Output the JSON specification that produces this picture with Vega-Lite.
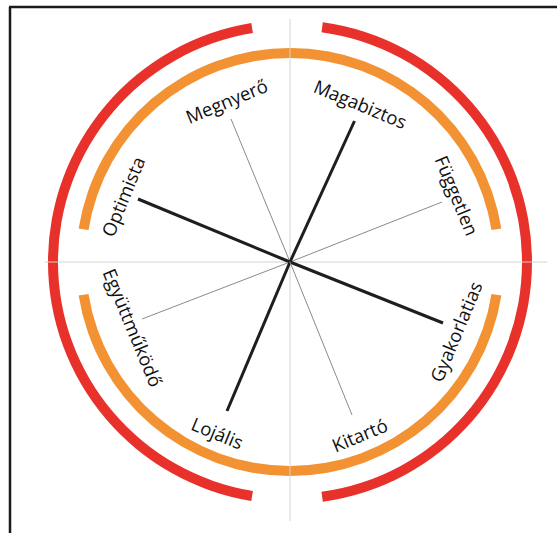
{
  "$schema": "https://vega.github.io/schema/vega-lite/v6.json",
  "width": 557,
  "height": 533,
  "padding": 0,
  "autosize": {"type": "none"},
  "background": "white",
  "config": {"view": {"stroke": null}},
  "datasets": {
    "frame": [
      {"x": -280, "y": 255, "x2": -280, "y2": -275},
      {"x": -281, "y": 255, "x2": 270, "y2": 255}
    ],
    "cross": [
      {"x": 0, "y": 243, "x2": 0, "y2": -259},
      {"x": -245, "y": 0, "x2": 257, "y2": 0}
    ],
    "rings": [
      {"ring": "red-right", "t1": 7.8, "t2": 172.2, "r1": 232, "r2": 242, "color": "#e8312b"},
      {"ring": "red-left", "t1": 189.2, "t2": 350.8, "r1": 232, "r2": 242, "color": "#e8312b"},
      {"ring": "orange-top", "t1": -81, "t2": 81, "r1": 204, "r2": 214, "color": "#f39232"},
      {"ring": "orange-bottom", "t1": 99, "t2": 261, "r1": 204, "r2": 214, "color": "#f39232"}
    ],
    "spokes": [
      {"trait": "Magabiztos", "x": 0, "y": 0, "x2": 64.5, "y2": 141, "kind": "strong"},
      {"trait": "Megnyerő", "x": 0, "y": 0, "x2": -59, "y2": 143, "kind": "weak"},
      {"trait": "Optimista", "x": 0, "y": 0, "x2": -152, "y2": 63, "kind": "strong"},
      {"trait": "Együttműködő", "x": 0, "y": 0, "x2": -148, "y2": -57, "kind": "weak"},
      {"trait": "Független", "x": 0, "y": 0, "x2": 152, "y2": 60, "kind": "weak"},
      {"trait": "Gyakorlatias", "x": 0, "y": 0, "x2": 153, "y2": -61, "kind": "strong"},
      {"trait": "Lojális", "x": 0, "y": 0, "x2": -63, "y2": -149, "kind": "strong"},
      {"trait": "Kitartó", "x": 0, "y": 0, "x2": 62, "y2": -153, "kind": "weak"}
    ],
    "labels": [
      {"trait": "Megnyerő", "x": -63, "y": 160, "angle": -22.5},
      {"trait": "Magabiztos", "x": 70, "y": 157, "angle": 22.5},
      {"trait": "Optimista", "x": -166, "y": 65, "angle": -67.5},
      {"trait": "Együttműködő", "x": -158, "y": -66, "angle": 67.5},
      {"trait": "Független", "x": 166, "y": 66, "angle": 67.5},
      {"trait": "Gyakorlatias", "x": 167, "y": -70, "angle": -67.5},
      {"trait": "Lojális", "x": -73, "y": -172, "angle": 22.5},
      {"trait": "Kitartó", "x": 70, "y": -174, "angle": -22.5}
    ]
  },
  "layer": [
    {
      "data": {"name": "rings"},
      "mark": {"type": "arc"},
      "encoding": {
        "x": {"datum": 0, "type": "quantitative", "scale": {"domain": [-290, 267], "nice": false, "zero": false}, "axis": null},
        "y": {"datum": 0, "type": "quantitative", "scale": {"domain": [-271, 262], "nice": false, "zero": false}, "axis": null},
        "theta": {"field": "t1", "type": "quantitative", "stack": null, "scale": {"type": "linear", "domain": [0, 360], "range": [0, 6.283185307179586], "zero": false, "nice": false}},
        "theta2": {"field": "t2"},
        "radius": {"field": "r1", "type": "quantitative", "stack": null, "scale": {"type": "linear", "domain": [0, 300], "range": [0, 300], "zero": true, "nice": false}},
        "radius2": {"field": "r2"},
        "color": {"field": "color", "type": "nominal", "scale": null}
      }
    },
    {
      "data": {"name": "cross"},
      "mark": {"type": "rule", "color": "#d4d4d4", "strokeWidth": 1},
      "encoding": {
        "x": {"field": "x", "type": "quantitative", "scale": {"domain": [-290, 267], "nice": false, "zero": false}, "axis": null},
        "y": {"field": "y", "type": "quantitative", "scale": {"domain": [-271, 262], "nice": false, "zero": false}, "axis": null},
        "x2": {"field": "x2"},
        "y2": {"field": "y2"}
      }
    },
    {
      "data": {"name": "frame"},
      "mark": {"type": "rule", "color": "#1a1a1a", "strokeWidth": 2.5},
      "encoding": {
        "x": {"field": "x", "type": "quantitative", "scale": {"domain": [-290, 267], "nice": false, "zero": false}, "axis": null},
        "y": {"field": "y", "type": "quantitative", "scale": {"domain": [-271, 262], "nice": false, "zero": false}, "axis": null},
        "x2": {"field": "x2"},
        "y2": {"field": "y2"}
      }
    },
    {
      "data": {"name": "spokes"},
      "mark": {"type": "rule", "strokeCap": "butt"},
      "encoding": {
        "x": {"field": "x", "type": "quantitative", "scale": {"domain": [-290, 267], "nice": false, "zero": false}, "axis": null},
        "y": {"field": "y", "type": "quantitative", "scale": {"domain": [-271, 262], "nice": false, "zero": false}, "axis": null},
        "x2": {"field": "x2"},
        "y2": {"field": "y2"},
        "color": {"field": "kind", "type": "nominal", "scale": {"domain": ["strong", "weak"], "range": ["#1e1e1e", "#8a8a8a"]}, "legend": null},
        "strokeWidth": {"field": "kind", "type": "nominal", "scale": {"domain": ["strong", "weak"], "range": [3, 1]}, "legend": null}
      }
    },
    {
      "data": {"name": "labels"},
      "mark": {"type": "text", "font": "Open Sans", "fontSize": 18.5, "align": "center", "baseline": "middle", "color": "#111111"},
      "encoding": {
        "x": {"field": "x", "type": "quantitative", "scale": {"domain": [-290, 267], "nice": false, "zero": false}, "axis": null},
        "y": {"field": "y", "type": "quantitative", "scale": {"domain": [-271, 262], "nice": false, "zero": false}, "axis": null},
        "angle": {"field": "angle", "type": "quantitative", "scale": null},
        "text": {"field": "trait", "type": "nominal"}
      }
    }
  ]
}
